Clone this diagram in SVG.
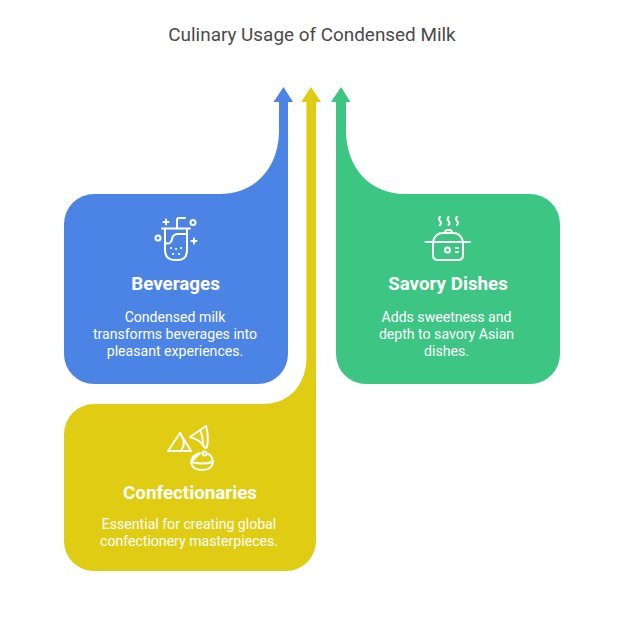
<svg xmlns="http://www.w3.org/2000/svg" width="624" height="624" viewBox="0 0 624 624">
<style>
text{font-family:Roboto,"Liberation Sans",sans-serif;text-anchor:middle}
.title{font-size:18.900px;fill:#4a4a4a}
.head{font-size:18.800px;font-weight:700;fill:#fff}
.body{font-size:14.100px;fill:#fff}
.ic{fill:none;stroke:#fff;stroke-width:2;stroke-linecap:round;stroke-linejoin:round}
</style>
<rect width="624" height="624" fill="#fff"/>
<text class="title" x="312" y="41">Culinary Usage of Condensed Milk</text>
<g id="connectors"></g>
<g id="beverages">
<path fill="#4c84e6" d="M94 194H220C255 194 279 168 279 130V102H273.500L283.500 87L293 102H288V354A30 30 0 0 1 258 384H94A30 30 0 0 1 64 354V224A30 30 0 0 1 94 194Z"/>
<g class="ic">
<path d="M162 228.500H190M165 228.500V250Q165 260 175 260H178Q187 260 187 250V228.500"/>
<path d="M165 243Q171 245 172 239Q173 234 178 234H187"/>
<path d="M177 228.500V220Q177 218 179 218H185"/>
<path d="M166 219.500V224.500M163.500 222H168.500M194 238.500V243.500M191.500 241H196.500"/>
<circle cx="193" cy="222.500" r="2.500"/><circle cx="158" cy="238" r="2.500"/>
<path d="M171 248h.1M176 249h.1M181 248h.1M173 254h.1M179 254h.1" stroke-width="2.200"/>
</g>
<text class="head" x="175.500" y="290">Beverages</text>
<text class="body" x="175" y="322">Condensed milk</text>
<text class="body" x="175" y="339">transforms beverages into</text>
<text class="body" x="175" y="356">pleasant experiences.</text>
</g>
<g id="savory-dishes">
<path fill="#3cc583" d="M530 194H405C370 194 346 168 346 130V102H350.500L341 87L331 102H336V354A30 30 0 0 0 366 384H530A30 30 0 0 0 560 354V224A30 30 0 0 0 530 194Z"/>
<g class="ic">
<path d="M425.500 242H470"/>
<path d="M433 242Q435 233 443 233H453Q461 233 463 242"/>
<path d="M445 233Q445 230 447.500 230H449.500Q452 230 452 233"/>
<path d="M433 242V255Q433 260 438 260H458Q463 260 463 255V242"/>
<circle cx="447.500" cy="250" r="2.500"/><path d="M456 248h2M456 252h2"/>
<path d="M440 217q-2 2 0 4t0 4M448.500 217q-2 2 0 4t0 4M457 217q-2 2 0 4t0 4"/>
</g>
<text class="head" x="448" y="290">Savory Dishes</text>
<text class="body" x="446.500" y="322">Adds sweetness and</text>
<text class="body" x="446.500" y="339">depth to savory Asian</text>
<text class="body" x="446.500" y="356">dishes.</text>
</g>
<g id="confectionaries">
<path fill="#e0cc12" d="M94 404H263C290 404 306.500 384 306.500 357V102H301L311 87L321 102H316V541A30 30 0 0 1 286 571H94A30 30 0 0 1 64 541V434A30 30 0 0 1 94 404Z"/>
<g class="ic">
<path d="M168 451L180 433L191 451Z"/>
<path d="M180 433Q187 443 181 451"/>
<path d="M190 437L206 426Q209 436 207 447Q205 449 203 445Q200 440 190 437Z"/>
<path d="M200 430Q203 436 203 445"/>
<path d="M191 462Q192 470 202 470Q212 470 213 462Q212 455 208 454M200 453Q192 455 191 462Z"/>
<path d="M191 462Q202 465 213 462"/>
<circle cx="204.500" cy="453.500" r="2"/>
</g>
<text class="head" x="190" y="499">Confectionaries</text>
<text class="body" x="189" y="529">Essential for creating global</text>
<text class="body" x="189" y="546">confectionery masterpieces.</text>
</g>
</svg>
